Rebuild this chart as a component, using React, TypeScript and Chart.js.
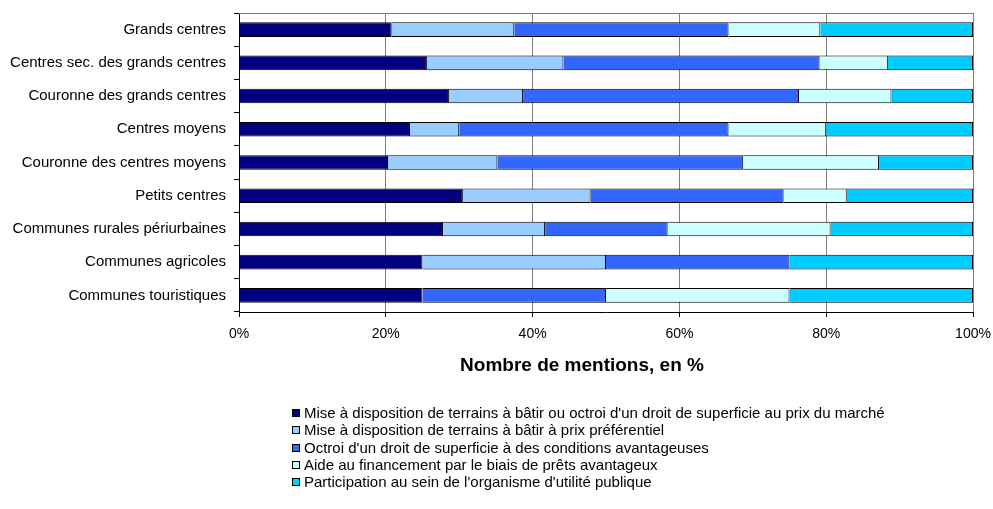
import { useEffect, useRef } from "react";
import { Chart, registerables } from "chart.js";

Chart.register(...registerables);

const categories = [
  "Grands centres",
  "Centres sec. des grands centres",
  "Couronne des grands centres",
  "Centres moyens",
  "Couronne des centres moyens",
  "Petits centres",
  "Communes rurales périurbaines",
  "Communes agricoles",
  "Communes touristiques",
];

const seriesNames = [
  "Mise à disposition de terrains à bâtir ou octroi d'un droit de superficie au prix du marché",
  "Mise à disposition de terrains à bâtir à prix préférentiel",
  "Octroi d'un droit de superficie à des conditions avantageuses",
  "Aide au financement par le biais de prêts avantageux",
  "Participation au sein de l'organisme d'utilité publique",
];

const prixMarche = [20.8, 25.6, 28.6, 23.3, 20.3, 30.5, 27.8, 25, 25];
const prixPreferentiel = [16.7, 18.6, 10.1, 6.7, 14.9, 17.4, 13.9, 25, 0];
const droitSuperficie = [29.2, 34.9, 37.6, 36.7, 33.5, 26.3, 16.7, 25, 25];
const pretsAvantageux = [12.5, 9.3, 12.6, 13.3, 18.5, 8.6, 22.2, 0, 25];
const participation = [20.8, 11.6, 11.1, 20, 12.8, 17.2, 19.4, 25, 25];

const xTicks = [0, 20, 40, 60, 80, 100];
const xTitle = "Nombre de mentions, en %";

const colors = ["#000080", "#99CCFF", "#3366FF", "#CCFFFF", "#00CCFF"];

const FONT = "'Liberation Sans', Arial, sans-serif";

export default function App() {
  const ref = useRef<HTMLCanvasElement | null>(null);

  useEffect(() => {
    document.body.style.margin = "0";
    const canvas = ref.current;
    if (!canvas) return;

    const decor = {
      id: "decor",
      afterDraw(chart: any) {
        const { ctx, chartArea } = chart;
        ctx.save();
        // top border of plot area
        ctx.strokeStyle = "#808080";
        ctx.lineWidth = 1;
        ctx.beginPath();
        ctx.moveTo(chartArea.left, chartArea.top + 0.5);
        ctx.lineTo(chartArea.right, chartArea.top + 0.5);
        ctx.stroke();

        // axis title
        ctx.fillStyle = "#000";
        ctx.font = `bold 19px ${FONT}`;
        ctx.textAlign = "center";
        ctx.textBaseline = "middle";
        ctx.fillText(xTitle, 582, 366);

        // legend
        ctx.font = `15px ${FONT}`;
        ctx.textAlign = "left";
        chart.data.datasets.forEach((ds: any, i: number) => {
          const y = Math.round(413 + i * 17.3);
          ctx.fillStyle = ds.backgroundColor;
          ctx.fillRect(292, y - 4, 8, 8);
          ctx.strokeStyle = "#000";
          ctx.strokeRect(292.5, y - 3.5, 7, 7);
          ctx.fillStyle = "#000";
          ctx.fillText(ds.label, 304, y + 1);
        });
        ctx.restore();
      },
    };

    const series = [prixMarche, prixPreferentiel, droitSuperficie, pretsAvantageux, participation];

    const chart = new Chart(canvas, {
      type: "bar",
      data: {
        labels: categories,
        datasets: series.map((data, i) => ({
          label: seriesNames[i],
          data,
          backgroundColor: colors[i],
          borderColor: "#000",
          borderWidth: 1,
          categoryPercentage: 1,
          barPercentage: 0.44,
        })),
      },
      options: {
        indexAxis: "y",
        responsive: false,
        animation: false,
        devicePixelRatio: 1,
        layout: { padding: { top: 13, right: 20, left: 0, bottom: 0 } },
        plugins: {
          legend: { display: false },
          tooltip: { enabled: false },
          title: { display: false },
        },
        scales: {
          x: {
            stacked: true,
            min: 0,
            max: 100,
            afterFit: (scale: any) => {
              scale.height = 197;
              scale.paddingLeft = 0;
              scale.paddingRight = 0;
            },
            afterBuildTicks: (scale: any) => {
              scale.ticks = xTicks.map((v) => ({ value: v }));
            },
            ticks: {
              callback: (v: any) => `${v}%`,
              color: "#000",
              font: { family: FONT, size: 14 },
              padding: 9,
              maxRotation: 0,
            },
            grid: {
              color: "#808080",
              lineWidth: 1,
              drawTicks: true,
              tickLength: 5,
              tickColor: "#000",
            },
            border: { display: true, color: "#000", width: 1 },
          },
          y: {
            stacked: true,
            afterFit: (scale: any) => {
              scale.width = 239;
              scale.paddingTop = 0;
              scale.paddingBottom = 0;
            },
            ticks: {
              color: "#000",
              font: { family: FONT, size: 15 },
              padding: 8,
            },
            grid: {
              offset: true,
              drawOnChartArea: false,
              drawTicks: true,
              tickLength: 5,
              tickColor: "#000",
            },
            border: { display: true, color: "#000", width: 1 },
          },
        },
      },
      plugins: [decor],
    });

    return () => chart.destroy();
  }, []);

  return (
    <div style={{ width: 993, height: 509, position: "relative", background: "#fff" }}>
      <canvas ref={ref} width={993} height={509} />
    </div>
  );
}
